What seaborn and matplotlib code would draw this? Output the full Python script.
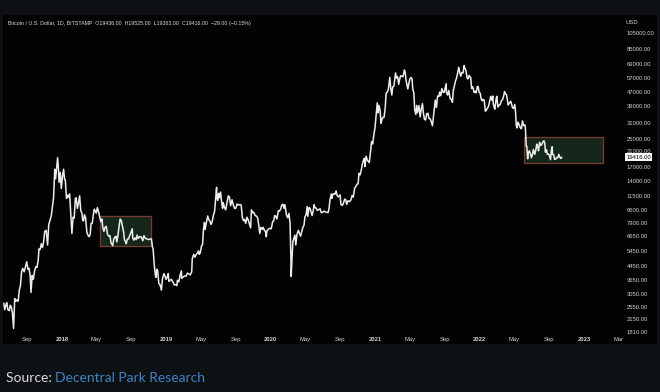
import matplotlib
matplotlib.use("Agg")
import matplotlib.pyplot as plt
import matplotlib.dates as mdates
from matplotlib.patches import Rectangle
import pandas as pd
import seaborn as sns

# ---------------- data ----------------
px_2017 = [
    ("2017-06-12", 2680), ("2017-06-15", 2450), ("2017-06-19", 2600), ("2017-06-22", 2700),
    ("2017-06-26", 2450), ("2017-07-01", 2420), ("2017-07-04", 2600), ("2017-07-08", 2550),
    ("2017-07-12", 2350), ("2017-07-16", 1900), ("2017-07-20", 2850), ("2017-07-24", 2750),
    ("2017-07-28", 2800), ("2017-08-01", 2750), ("2017-08-05", 3200), ("2017-08-09", 3400),
    ("2017-08-13", 4100), ("2017-08-17", 4300), ("2017-08-22", 4100), ("2017-08-26", 4350),
    ("2017-08-31", 4700), ("2017-09-04", 4250), ("2017-09-08", 4300), ("2017-09-12", 3900),
    ("2017-09-15", 3100), ("2017-09-19", 3900), ("2017-09-23", 3700), ("2017-09-28", 4200),
    ("2017-10-02", 4400), ("2017-10-06", 4350), ("2017-10-10", 4800), ("2017-10-13", 5600),
    ("2017-10-17", 5550), ("2017-10-21", 6000), ("2017-10-25", 5700), ("2017-10-29", 6150),
    ("2017-11-02", 7100), ("2017-11-07", 7200), ("2017-11-12", 5900), ("2017-11-16", 7800),
    ("2017-11-20", 8200), ("2017-11-25", 8800), ("2017-11-29", 10000), ("2017-12-03", 11300),
    ("2017-12-07", 16500), ("2017-12-10", 14500), ("2017-12-13", 16500), ("2017-12-17", 19300),
    ("2017-12-20", 16500), ("2017-12-22", 13800), ("2017-12-26", 15800), ("2017-12-30", 12700),
]
px_2018 = [
    ("2018-01-03", 15100), ("2018-01-07", 16500), ("2018-01-10", 14500), ("2018-01-13", 14200),
    ("2018-01-17", 11100), ("2018-01-21", 11600), ("2018-01-24", 11300), ("2018-01-28", 11800),
    ("2018-02-01", 9100), ("2018-02-05", 6900), ("2018-02-09", 8600), ("2018-02-13", 8500),
    ("2018-02-17", 11100), ("2018-02-20", 11200), ("2018-02-24", 9700), ("2018-02-28", 10400),
    ("2018-03-04", 11500), ("2018-03-08", 9400), ("2018-03-12", 9100), ("2018-03-15", 8200),
    ("2018-03-18", 8200), ("2018-03-21", 8900), ("2018-03-25", 8500), ("2018-03-29", 7100),
    ("2018-04-01", 6800), ("2018-04-06", 6600), ("2018-04-10", 6800), ("2018-04-13", 7900),
    ("2018-04-17", 7900), ("2018-04-21", 8900), ("2018-04-24", 9600), ("2018-04-28", 9300),
    ("2018-05-01", 9100), ("2018-05-05", 9800), ("2018-05-09", 9300), ("2018-05-13", 8700),
    ("2018-05-17", 8100), ("2018-05-21", 8400), ("2018-05-24", 7500), ("2018-05-28", 7100),
    ("2018-06-01", 7500), ("2018-06-05", 7600), ("2018-06-10", 6800), ("2018-06-14", 6650),
    ("2018-06-18", 6700), ("2018-06-22", 6050), ("2018-06-28", 5850), ("2018-07-01", 6350),
    ("2018-07-05", 6550), ("2018-07-09", 6650), ("2018-07-12", 6150), ("2018-07-16", 6700),
    ("2018-07-19", 7400), ("2018-07-24", 8400), ("2018-07-28", 8200), ("2018-08-01", 7600),
    ("2018-08-05", 7000), ("2018-08-08", 6300), ("2018-08-11", 6200), ("2018-08-14", 6000),
    ("2018-08-18", 6400), ("2018-08-22", 6400), ("2018-08-26", 6700), ("2018-08-30", 6950),
    ("2018-09-04", 7350), ("2018-09-06", 6450), ("2018-09-10", 6300), ("2018-09-14", 6500),
    ("2018-09-18", 6350), ("2018-09-21", 6750), ("2018-09-25", 6450), ("2018-09-30", 6600),
    ("2018-10-05", 6600), ("2018-10-11", 6250), ("2018-10-15", 6700), ("2018-10-20", 6450),
    ("2018-10-25", 6400), ("2018-10-31", 6350), ("2018-11-05", 6400), ("2018-11-10", 6400),
    ("2018-11-14", 5700), ("2018-11-16", 5600), ("2018-11-20", 4500), ("2018-11-24", 3900),
    ("2018-11-26", 3800), ("2018-11-29", 4250), ("2018-12-02", 4150), ("2018-12-06", 3500),
    ("2018-12-10", 3450), ("2018-12-15", 3200), ("2018-12-19", 3750), ("2018-12-24", 4000),
    ("2018-12-28", 3850), ("2018-12-31", 3700),
]
px_2019 = [
    ("2019-01-04", 3800), ("2019-01-08", 4000), ("2019-01-10", 3600), ("2019-01-14", 3650),
    ("2019-01-19", 3700), ("2019-01-24", 3580), ("2019-01-29", 3430), ("2019-02-03", 3450),
    ("2019-02-07", 3400), ("2019-02-09", 3650), ("2019-02-14", 3580), ("2019-02-18", 3900),
    ("2019-02-23", 4150), ("2019-02-24", 3750), ("2019-03-01", 3820), ("2019-03-06", 3870),
    ("2019-03-11", 3860), ("2019-03-16", 4030), ("2019-03-21", 3980), ("2019-03-26", 3930),
    ("2019-03-31", 4100), ("2019-04-02", 4900), ("2019-04-07", 5200), ("2019-04-11", 5000),
    ("2019-04-16", 5200), ("2019-04-21", 5300), ("2019-04-24", 5450), ("2019-04-26", 5200),
    ("2019-04-30", 5300), ("2019-05-04", 5800), ("2019-05-08", 5950), ("2019-05-11", 7200),
    ("2019-05-14", 8000), ("2019-05-16", 7900), ("2019-05-17", 7300), ("2019-05-21", 7950),
    ("2019-05-26", 8750), ("2019-05-30", 8300), ("2019-06-03", 8150), ("2019-06-06", 7800),
    ("2019-06-10", 8000), ("2019-06-15", 8850), ("2019-06-19", 9300), ("2019-06-22", 10700),
    ("2019-06-26", 12900), ("2019-06-27", 11200), ("2019-06-30", 10800), ("2019-07-03", 11900),
    ("2019-07-06", 11200), ("2019-07-10", 12100), ("2019-07-14", 10400), ("2019-07-17", 9700),
    ("2019-07-19", 10500), ("2019-07-24", 9800), ("2019-07-28", 9500), ("2019-08-01", 10400),
    ("2019-08-06", 11500), ("2019-08-10", 11300), ("2019-08-14", 10050), ("2019-08-19", 10900),
    ("2019-08-24", 10100), ("2019-08-28", 9700), ("2019-09-01", 9700), ("2019-09-06", 10300),
    ("2019-09-11", 10150), ("2019-09-16", 10200), ("2019-09-20", 10150), ("2019-09-24", 8600),
    ("2019-09-28", 8200), ("2019-10-02", 8350), ("2019-10-06", 7900), ("2019-10-10", 8600),
    ("2019-10-14", 8350), ("2019-10-18", 7950), ("2019-10-23", 7450), ("2019-10-26", 9500),
    ("2019-10-30", 9150), ("2019-11-03", 9200), ("2019-11-08", 8800), ("2019-11-12", 8750),
    ("2019-11-17", 8500), ("2019-11-21", 7600), ("2019-11-24", 6900), ("2019-11-28", 7500),
    ("2019-12-02", 7300), ("2019-12-06", 7500), ("2019-12-10", 7200), ("2019-12-14", 7100),
    ("2019-12-17", 6600), ("2019-12-19", 7150), ("2019-12-24", 7300), ("2019-12-29", 7400),
]
px_2020 = [
    ("2020-01-03", 7350), ("2020-01-06", 7750), ("2020-01-08", 8100), ("2020-01-12", 8200),
    ("2020-01-15", 8800), ("2020-01-19", 8700), ("2020-01-23", 8400), ("2020-01-28", 9400),
    ("2020-02-01", 9350), ("2020-02-05", 9600), ("2020-02-09", 10150), ("2020-02-13", 10250),
    ("2020-02-17", 9700), ("2020-02-19", 10200), ("2020-02-22", 9700), ("2020-02-26", 8800),
    ("2020-03-01", 8550), ("2020-03-05", 9050), ("2020-03-09", 7950), ("2020-03-12", 4900),
    ("2020-03-13", 3850), ("2020-03-16", 5000), ("2020-03-19", 6200), ("2020-03-23", 6500),
    ("2020-03-26", 6750), ("2020-03-29", 5900), ("2020-04-02", 6800), ("2020-04-07", 7200),
    ("2020-04-11", 6900), ("2020-04-15", 6650), ("2020-04-19", 7100), ("2020-04-23", 7500),
    ("2020-04-27", 7750), ("2020-04-30", 8650), ("2020-05-04", 8900), ("2020-05-08", 9950),
    ("2020-05-10", 8700), ("2020-05-14", 9800), ("2020-05-18", 9700), ("2020-05-22", 9150),
    ("2020-05-25", 8800), ("2020-05-29", 9400), ("2020-06-01", 10200), ("2020-06-04", 9800),
    ("2020-06-08", 9750), ("2020-06-12", 9450), ("2020-06-16", 9500), ("2020-06-22", 9650),
    ("2020-06-26", 9150), ("2020-07-01", 9200), ("2020-07-06", 9350), ("2020-07-10", 9250),
    ("2020-07-15", 9200), ("2020-07-20", 9160), ("2020-07-23", 9600), ("2020-07-27", 11000),
    ("2020-08-01", 11800), ("2020-08-02", 11100), ("2020-08-06", 11750), ("2020-08-10", 11850),
    ("2020-08-13", 11750), ("2020-08-17", 12300), ("2020-08-21", 11500), ("2020-08-25", 11350),
    ("2020-08-31", 11650), ("2020-09-03", 10200), ("2020-09-08", 10100), ("2020-09-12", 10450),
    ("2020-09-16", 11000), ("2020-09-20", 10900), ("2020-09-23", 10250), ("2020-09-28", 10750),
    ("2020-10-04", 10650), ("2020-10-08", 10900), ("2020-10-12", 11550), ("2020-10-16", 11300),
    ("2020-10-21", 12800), ("2020-10-25", 13050), ("2020-10-29", 13450), ("2020-11-02", 13550),
    ("2020-11-05", 15600), ("2020-11-09", 15300), ("2020-11-13", 16300), ("2020-11-17", 17700),
    ("2020-11-21", 18700), ("2020-11-24", 19150), ("2020-11-26", 17100), ("2020-11-30", 19700),
    ("2020-12-04", 18700), ("2020-12-08", 18300), ("2020-12-11", 18050), ("2020-12-16", 21300),
    ("2020-12-19", 24000), ("2020-12-23", 23250), ("2020-12-27", 26300), ("2020-12-31", 28950),
]
px_2021 = [
    ("2021-01-03", 33000), ("2021-01-08", 40600), ("2021-01-11", 35500), ("2021-01-14", 39200),
    ("2021-01-18", 36600), ("2021-01-21", 30800), ("2021-01-24", 32300), ("2021-01-28", 33400),
    ("2021-02-01", 33500), ("2021-02-05", 38300), ("2021-02-08", 46400), ("2021-02-13", 47200),
    ("2021-02-16", 49200), ("2021-02-20", 56000), ("2021-02-21", 57500), ("2021-02-24", 49700),
    ("2021-02-28", 45200), ("2021-03-03", 50500), ("2021-03-07", 50900), ("2021-03-10", 55900),
    ("2021-03-13", 61000), ("2021-03-16", 56800), ("2021-03-20", 58100), ("2021-03-24", 52300),
    ("2021-03-27", 55800), ("2021-03-31", 58800), ("2021-04-04", 58200), ("2021-04-08", 58000),
    ("2021-04-13", 63500), ("2021-04-16", 61300), ("2021-04-18", 56200), ("2021-04-22", 51700),
    ("2021-04-25", 49100), ("2021-04-29", 53600), ("2021-05-03", 56600), ("2021-05-07", 57400),
    ("2021-05-10", 55900), ("2021-05-12", 49200), ("2021-05-16", 46400), ("2021-05-19", 37000),
    ("2021-05-23", 34700), ("2021-05-26", 39300), ("2021-05-29", 35600), ("2021-06-03", 39200),
    ("2021-06-07", 33600), ("2021-06-11", 37300), ("2021-06-15", 40200), ("2021-06-18", 35800),
    ("2021-06-22", 32500), ("2021-06-26", 32200), ("2021-06-30", 35000), ("2021-07-04", 35300),
    ("2021-07-08", 32900), ("2021-07-12", 32700), ("2021-07-16", 31500), ("2021-07-20", 29800),
    ("2021-07-24", 34300), ("2021-07-26", 37300), ("2021-07-30", 42200), ("2021-08-03", 38200),
    ("2021-08-07", 44600), ("2021-08-12", 44400), ("2021-08-14", 47000), ("2021-08-18", 44800),
    ("2021-08-22", 49300), ("2021-08-26", 46900), ("2021-08-30", 46900), ("2021-09-03", 50000),
    ("2021-09-06", 52700), ("2021-09-07", 46800), ("2021-09-11", 45200), ("2021-09-15", 48100),
    ("2021-09-20", 42900), ("2021-09-24", 42700), ("2021-09-28", 41000), ("2021-10-01", 48200),
    ("2021-10-05", 51500), ("2021-10-09", 54900), ("2021-10-13", 57400), ("2021-10-16", 60900),
    ("2021-10-20", 65900), ("2021-10-24", 60900), ("2021-10-27", 58400), ("2021-10-31", 61300),
    ("2021-11-04", 61000), ("2021-11-08", 67500), ("2021-11-10", 64900), ("2021-11-13", 64100),
    ("2021-11-16", 60300), ("2021-11-18", 56900), ("2021-11-22", 56300), ("2021-11-25", 59000),
    ("2021-11-29", 57800), ("2021-12-01", 57200), ("2021-12-04", 49400), ("2021-12-08", 50500),
    ("2021-12-13", 46800), ("2021-12-16", 47600), ("2021-12-20", 46600), ("2021-12-24", 50800),
    ("2021-12-27", 50600), ("2021-12-30", 47100),
]
px_2022 = [
    ("2022-01-03", 46400), ("2022-01-06", 43100), ("2022-01-10", 41800), ("2022-01-13", 42600),
    ("2022-01-17", 42200), ("2022-01-21", 36300), ("2022-01-24", 36700), ("2022-01-28", 37700),
    ("2022-02-01", 38700), ("2022-02-05", 41500), ("2022-02-09", 44400), ("2022-02-13", 42100),
    ("2022-02-16", 44600), ("2022-02-18", 40000), ("2022-02-23", 37300), ("2022-02-24", 38300),
    ("2022-02-28", 43200), ("2022-03-02", 44400), ("2022-03-06", 38400), ("2022-03-10", 39400),
    ("2022-03-14", 39700), ("2022-03-18", 41800), ("2022-03-22", 42400), ("2022-03-26", 44500),
    ("2022-03-29", 47400), ("2022-04-02", 45800), ("2022-04-05", 45500), ("2022-04-11", 39500),
    ("2022-04-15", 40500), ("2022-04-20", 41500), ("2022-04-26", 38100), ("2022-04-30", 37700),
    ("2022-05-04", 39700), ("2022-05-07", 35500), ("2022-05-09", 30100), ("2022-05-12", 28900),
    ("2022-05-15", 31300), ("2022-05-19", 30300), ("2022-05-23", 29100), ("2022-05-27", 28600),
    ("2022-05-31", 31800), ("2022-06-04", 29800), ("2022-06-08", 30200), ("2022-06-10", 29100),
    ("2022-06-13", 22500), ("2022-06-15", 22600), ("2022-06-18", 19000), ("2022-06-20", 20600),
    ("2022-06-24", 21200), ("2022-06-28", 20300), ("2022-07-01", 19300), ("2022-07-05", 20200),
    ("2022-07-08", 21600), ("2022-07-13", 20200), ("2022-07-16", 21200), ("2022-07-20", 23200),
    ("2022-07-23", 22500), ("2022-07-26", 21200), ("2022-07-30", 23800), ("2022-08-03", 22800),
    ("2022-08-07", 23200), ("2022-08-10", 23900), ("2022-08-14", 24300), ("2022-08-17", 23400),
    ("2022-08-19", 20800), ("2022-08-23", 21500), ("2022-08-26", 20200), ("2022-08-29", 20300),
    ("2022-09-01", 20100), ("2022-09-06", 18800), ("2022-09-09", 21400), ("2022-09-12", 22400),
    ("2022-09-13", 20200), ("2022-09-17", 20100), ("2022-09-20", 18900), ("2022-09-24", 18900),
    ("2022-09-28", 19400), ("2022-10-02", 19300), ("2022-10-05", 20200), ("2022-10-09", 19400),
    ("2022-10-12", 19100), ("2022-10-14", 19200), ("2022-10-15", 19416),
]

last_close = 19416.00
header_text = ("Bitcoin / U.S. Dollar, 1D, BITSTAMP  O19436.00  H19525.00  "
               "L19363.00  C19416.00  \u221229.00 (\u22120.15%)")

y_ticks = [105000, 85000, 69000, 57000, 47000, 39000, 31000, 25000, 21000, 17000,
           14000, 11500, 9500, 7900, 6650, 5450, 4450, 3650, 3050, 2550, 2150, 1810]

x_tick_dates = ["2017-09-01", "2018-01-01", "2018-05-01", "2018-09-01", "2019-01-01",
                "2019-05-01", "2019-09-01", "2020-01-01", "2020-05-01", "2020-09-01",
                "2021-01-01", "2021-05-01", "2021-09-01", "2022-01-01", "2022-05-01",
                "2022-09-01", "2023-01-01", "2023-05-01"]
x_tick_labels = ["Sep", "2018", "May", "Sep", "2019", "May", "Sep", "2020", "May", "Sep",
                 "2021", "May", "Sep", "2022", "May", "Sep", "2023", "Mar"]

# consolidation boxes: (start date, end date, low price, high price)
box_2018 = ("2018-05-14", "2018-11-10", 5820, 8750)
box_2022 = ("2022-06-05", "2023-03-10", 17900, 25600)

# ---------------- figure ----------------
W, H = 660, 392
BG_OUT = "#0e1114"
BG_PANEL = "#030303"
TXT = "#d0d0d0"

sns.set_theme(style="dark")
plt.rcParams["font.family"] = ["Liberation Sans", "DejaVu Sans"]

fig = plt.figure(figsize=(W / 100, H / 100), dpi=100, facecolor=BG_OUT)

# dark chart panel (drawn behind everything)
panel = fig.add_axes([3 / W, 1 - 344 / H, 654 / W, 329 / H], zorder=-5)
panel.set_facecolor(BG_PANEL)
panel.set_xticks([])
panel.set_yticks([])
for s in panel.spines.values():
    s.set_visible(False)

ax = fig.add_axes([3 / W, 1 - 334 / H, 619 / W, 319 / H], zorder=2)
ax.set_facecolor(BG_PANEL)
ax.patch.set_alpha(0)

rows = px_2017 + px_2018 + px_2019 + px_2020 + px_2021 + px_2022
df = pd.DataFrame(rows, columns=["date", "close"])
df["date"] = pd.to_datetime(df["date"])

sns.lineplot(data=df, x="date", y="close", ax=ax, color="#ededed", linewidth=1.1,
             estimator=None, zorder=3)

ax.set_yscale("log")
ax.set_ylim(1762, 134000)
ax.set_xlim(pd.Timestamp("2017-06-09"), pd.Timestamp("2023-05-14"))

for (d0, d1, lo, hi) in (box_2018, box_2022):
    x0 = mdates.date2num(pd.Timestamp(d0))
    x1 = mdates.date2num(pd.Timestamp(d1))
    ax.add_patch(Rectangle((x0, lo), x1 - x0, hi - lo, facecolor="#15271a",
                           edgecolor="#7a3b30", linewidth=0.9, zorder=2))

# y axis on right
ax.yaxis.tick_right()
ax.set_yticks(y_ticks)
ax.set_yticklabels([f"{v:.2f}" for v in y_ticks])
ax.yaxis.set_minor_locator(matplotlib.ticker.NullLocator())
ax.tick_params(axis="y", which="both", length=0, pad=3.5, labelsize=4.2, labelcolor=TXT)

# x axis
ax.set_xticks([pd.Timestamp(d) for d in x_tick_dates])
ax.set_xticklabels(x_tick_labels)
ax.tick_params(axis="x", length=0, pad=2.5, labelsize=4.2, labelcolor=TXT)
for lab in ax.get_xticklabels():
    if lab.get_text().isdigit():
        lab.set_fontweight("bold")

ax.set_xlabel("")
ax.set_ylabel("")
ax.grid(False)
for s in ax.spines.values():
    s.set_visible(False)

# last price tag
ax.annotate(f"{last_close:.2f}", xy=(1.0, last_close),
            xycoords=("axes fraction", "data"), xytext=(3, 0),
            textcoords="offset points", ha="left", va="center",
            fontsize=4.2, color="#000000",
            bbox=dict(boxstyle="square,pad=0.25", facecolor="#ffffff", edgecolor="none"),
            zorder=5, annotation_clip=False)

# header and USD labels
fig.text(8 / W, 1 - 24 / H, header_text, fontsize=3.8, color="#dadada",
         ha="left", va="center")
fig.text(626 / W, 1 - 23 / H, "USD", fontsize=4.2, color=TXT, ha="left", va="center")

# source line
src = fig.text(6 / W, 1 - 378 / H, "Source: ", fontsize=10, color="#dcdcdc",
               family=["Lato", "DejaVu Sans"], ha="left", va="center")
ax.annotate("Decentral Park Research", xy=(1, 0), xycoords=src,
            ha="left", va="bottom", fontsize=10, color="#3f82c6",
            family=["Lato", "DejaVu Sans"], annotation_clip=False)

fig.savefig("out.png", dpi=100, facecolor=BG_OUT)
